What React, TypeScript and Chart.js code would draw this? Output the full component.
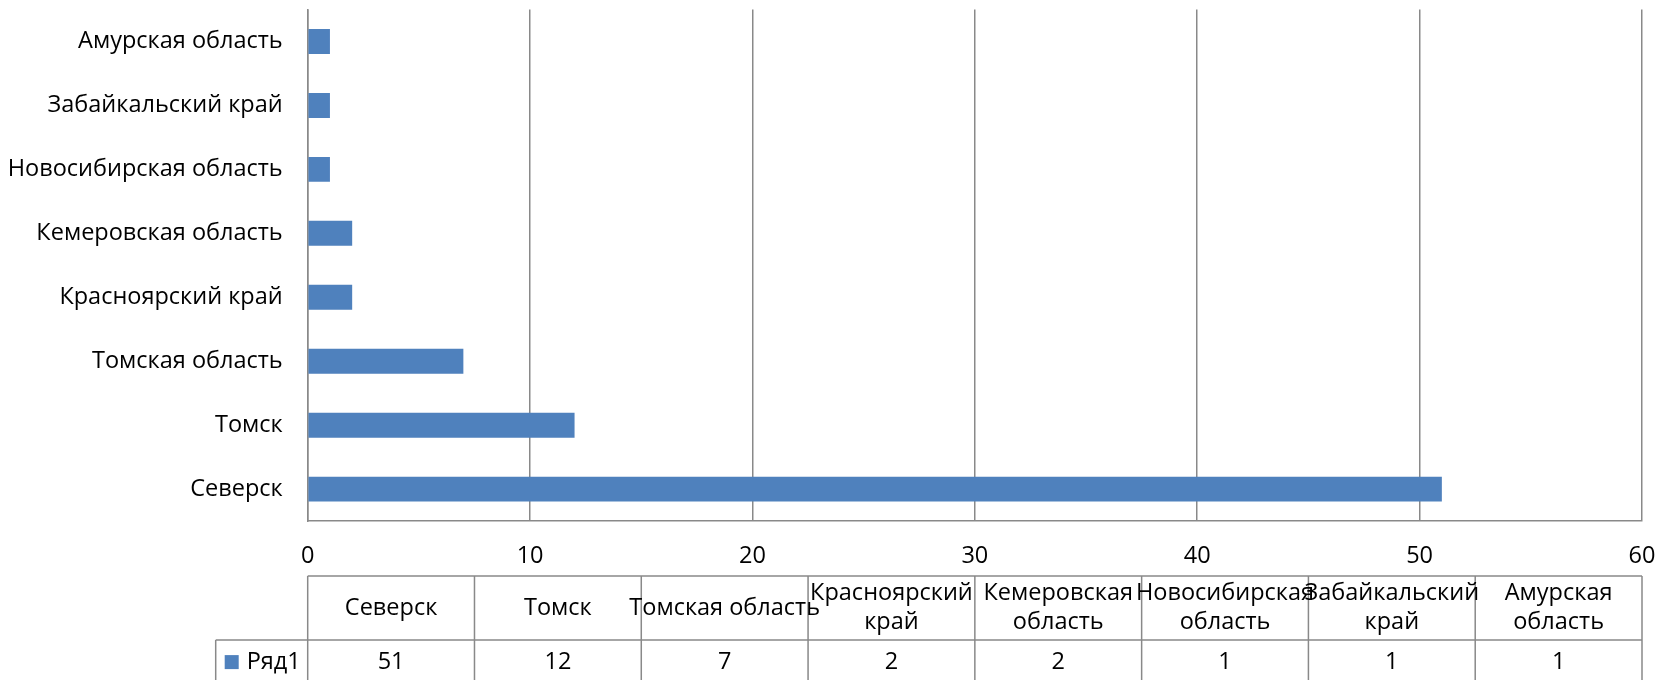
import { useEffect, useRef } from "react";
import { Chart, registerables } from "chart.js";

Chart.register(...registerables);

const categories: string[] = [
  "Северск",
  "Томск",
  "Томская область",
  "Красноярский край",
  "Кемеровская область",
  "Новосибирская область",
  "Забайкальский край",
  "Амурская область",
];
const tableHeaders: string[][] = [
  ["Северск"],
  ["Томск"],
  ["Томская область"],
  ["Красноярский", "край"],
  ["Кемеровская", "область"],
  ["Новосибирская", "область"],
  ["Забайкальский", "край"],
  ["Амурская", "область"],
];
const seriesName = "Ряд1";
const values: number[] = [51, 12, 7, 2, 2, 1, 1, 1];
const xMin = 0;
const xMax = 60;
const xStep = 10;

const FONT = "'Open Sans'";
const FONT_SIZE = 23.5;
const BAR = "#4F81BD";
const GRID = "#898989";
const TEXT = "#000000";

const tablePlugin = {
  id: "dataTable",
  afterDraw(chart: any) {
    const { ctx, chartArea } = chart;
    const { left, right, bottom } = chartArea;
    const n = tableHeaders.length;
    const w = (right - left) / n;
    const top = bottom + 55;
    const mid = bottom + 119;
    const legendLeft = left - 92;
    const end = chart.height + 4;
    ctx.save();
    ctx.strokeStyle = GRID;
    ctx.lineWidth = 1.5;
    ctx.beginPath();
    ctx.moveTo(left, top);
    ctx.lineTo(right, top);
    ctx.moveTo(legendLeft, mid);
    ctx.lineTo(right, mid);
    for (let i = 0; i <= n; i++) {
      const x = left + i * w;
      ctx.moveTo(x, top);
      ctx.lineTo(x, end);
    }
    ctx.moveTo(legendLeft, mid);
    ctx.lineTo(legendLeft, end);
    ctx.stroke();

    ctx.fillStyle = TEXT;
    ctx.font = `${FONT_SIZE}px ${FONT}`;
    ctx.textAlign = "center";
    ctx.textBaseline = "middle";
    const lineGap = 29;
    const headMid = (top + mid) / 2;
    tableHeaders.forEach((lines, i) => {
      const cx = left + (i + 0.5) * w;
      const y0 = headMid - ((lines.length - 1) * lineGap) / 2;
      lines.forEach((t, j) => ctx.fillText(t, cx, y0 + j * lineGap));
    });
    const valY = mid + 22;
    values.forEach((v, i) => {
      const cx = left + (i + 0.5) * w;
      ctx.fillText(String(v), cx, valY);
    });
    // legend key
    ctx.fillStyle = BAR;
    ctx.fillRect(left - 83, valY - 7, 14, 14);
    ctx.fillStyle = TEXT;
    ctx.textAlign = "left";
    ctx.fillText(seriesName, left - 61, valY);
    ctx.restore();
  },
};

export default function App() {
  const ref = useRef<HTMLCanvasElement | null>(null);
  useEffect(() => {
    if (!ref.current) return;
    const chart = new Chart(ref.current, {
      type: "bar",
      data: {
        labels: categories,
        datasets: [
          {
            label: seriesName,
            data: values,
            backgroundColor: BAR,
            borderWidth: 0,
            barPercentage: 0.39,
            categoryPercentage: 1,
          },
        ],
      },
      options: {
        indexAxis: "y",
        responsive: false,
        animation: false,
        maintainAspectRatio: false,
        layout: { padding: { left: 0, right: 17, top: 9.5, bottom: 109.7 } },
        plugins: { legend: { display: false }, tooltip: { enabled: false } },
        scales: {
          x: {
            type: "linear",
            min: xMin,
            max: xMax,
            ticks: {
              stepSize: xStep,
              padding: 0,
              color: TEXT,
              font: { family: FONT, size: FONT_SIZE, lineHeight: 1.2 },
            },
            grid: {
              color: GRID,
              lineWidth: 1.5,
              drawTicks: true,
              tickLength: 21,
              tickColor: "rgba(0,0,0,0)",
            },
            border: { color: GRID, width: 1.5 },
          },
          y: {
            reverse: true,
            ticks: {
              padding: 0,
              color: TEXT,
              font: { family: FONT, size: FONT_SIZE, lineHeight: 0.8 },
            },
            grid: { display: false, drawTicks: true, tickLength: 25 },
            border: { color: GRID, width: 1.5 },
            afterFit(scale: any) {
              scale.width = 307.7;
            },
          },
        },
      },
      plugins: [tablePlugin],
    });
    return () => chart.destroy();
  }, []);
  return (
    <div style={{ position: "fixed", left: 0, top: 0, width: 1659, height: 680, background: "#fff" }}>
      <canvas ref={ref} width={1659} height={680} style={{ width: 1659, height: 680 }} />
    </div>
  );
}
